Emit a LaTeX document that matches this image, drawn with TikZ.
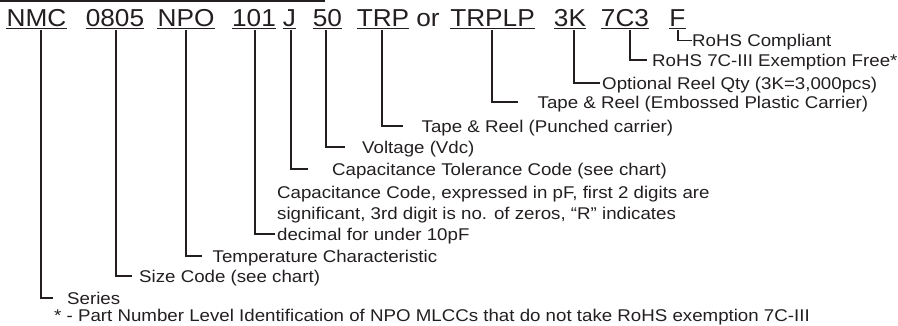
\documentclass[tikz,border=0pt]{standalone}
\usepackage{fontspec}
\setmainfont{Liberation Sans}
\usepackage{graphicx}
\definecolor{ink}{RGB}{35,31,32}
\newcommand{\codefnt}{\fontsize{24.5}{28}\selectfont}
\newcommand{\labfnt}{\fontsize{17}{20.5}\selectfont}
\newcommand{\hscode}[1]{\scalebox{1.07}[1]{#1}}
\newcommand{\hslab}[1]{\scalebox{1.1}[1]{#1}}
\begin{document}
\begin{tikzpicture}[x=1pt,y=-1pt,
  code/.style={font=\codefnt, inner sep=0pt, anchor=base, text=ink},
  lab/.style={font=\labfnt, inner sep=0pt, anchor=base west, text=ink},
  conn/.style={draw=ink, line width=1.6pt},
  uline/.style={draw=ink, line width=1.3pt}]
\useasboundingbox (0,0) rectangle (898,325);

% top rule
\draw[draw=ink, line width=1.5pt] (0,1) -- (325,1);

% codes
\node[code] (nmc)   at (36.5,26.5)  {\hscode{NMC}};
\node[code] (size)  at (115,26.5)   {\hscode{0805}};
\node[code] (npo)   at (186,26.5)   {\hscode{NPO}};
\node[code] (cap)   at (254,26.5)   {\hscode{101}};
\node[code] (tol)   at (289.5,26.5) {\hscode{J}};
\node[code] (volt)  at (327.5,26.5) {\hscode{50}};
\node[code] (trp)   at (383,26.5)   {\hscode{TRP}};
\node[code] (or)    at (428,26.5)   {\hscode{or}};
\node[code] (trplp) at (492.5,26.5) {\hscode{TRPLP}};
\node[code] (qty)   at (570,26.5)   {\hscode{3K}};
\node[code] (sevc)  at (625,26.5)   {\hscode{7C3}};
\node[code] (rohs)  at (677.5,26.5) {\hscode{F}};

\foreach \n in {nmc,size,npo,cap,tol,volt,trp,trplp,qty,sevc,rohs}
  \draw[uline] ([yshift=-2.2pt]\n.base west) -- ([yshift=-2.2pt]\n.base east);

% labels
\node[lab] (lrohs)  at (692,46.5)   {\hslab{RoHS Compliant}};
\node[lab] (lsevc)  at (652,66)     {\hslab{RoHS 7C-III Exemption Free*}};
\node[lab] (lqty)   at (602,89)     {\hslab{Optional Reel Qty (3K=3,000pcs)}};
\node[lab] (ltrplp) at (537.5,108)  {\hslab{Tape \& Reel (Embossed Plastic Carrier)}};
\node[lab] (ltrp)   at (421.5,132)  {\hslab{Tape \& Reel (Punched carrier)}};
\node[lab] (lvolt)  at (362,153)    {\hslab{Voltage (Vdc)}};
\node[lab] (ltol)   at (332,175)    {\hslab{Capacitance Tolerance Code (see chart)}};
\node[lab] (lcapa)  at (277,198)    {\hslab{Capacitance Code, expressed in pF, first 2 digits are}};
\node[lab] (lcapb)  at (277,219)    {\hslab{significant, 3rd digit is no. of zeros, “R” indicates}};
\node[lab] (lcapc)  at (277,240)    {\hslab{decimal for under 10pF}};
\node[lab] (lnpo)   at (212.5,262)  {\hslab{Temperature Characteristic}};
\node[lab] (lsize)  at (139,282)    {\hslab{Size Code (see chart)}};
\node[lab] (lnmc)   at (67,304)     {\hslab{Series}};
\node[lab] (note)   at (54,321)     {\hslab{* - Part Number Level Identification of NPO MLCCs that do not take RoHS exemption 7C-III}};

% connectors
\draw[conn] ([xshift=0.5pt,yshift=-3.5pt]rohs.base)  |- ([xshift=0pt,yshift=6pt]lrohs.base west);
\draw[conn] ([xshift=5pt,yshift=-3.5pt]sevc.base)    |- ([xshift=-5pt,yshift=6pt]lsevc.base west);
\draw[conn] ([xshift=4pt,yshift=-3.5pt]qty.base)     |- ([xshift=-2pt,yshift=6pt]lqty.base west);
\draw[conn] ([xshift=-0.5pt,yshift=-3.5pt]trplp.base)|- ([xshift=-19.5pt,yshift=6pt]ltrplp.base west);
\draw[conn] ([xshift=-1pt,yshift=-3.5pt]trp.base)    |- ([xshift=-18.5pt,yshift=6pt]ltrp.base west);
\draw[conn] ([xshift=-1.5pt,yshift=-3.5pt]volt.base) |- ([xshift=-17pt,yshift=6pt]lvolt.base west);
\draw[conn] ([xshift=1.5pt,yshift=-3.5pt]tol.base)   |- ([xshift=-24pt,yshift=6pt]ltol.base west);
\draw[conn] ([xshift=1pt,yshift=-3.5pt]cap.base)     |- ([xshift=-2pt,yshift=6pt]lcapc.base west);
\draw[conn] ([xshift=0pt,yshift=-3.5pt]npo.base)     |- ([xshift=-10.5pt,yshift=6pt]lnpo.base west);
\draw[conn] ([xshift=1pt,yshift=-3.5pt]size.base)    |- ([xshift=-7pt,yshift=6pt]lsize.base west);
\draw[conn] ([xshift=4.5pt,yshift=-3.5pt]nmc.base)   |- ([xshift=-14pt,yshift=6pt]lnmc.base west);
\end{tikzpicture}
\end{document}
